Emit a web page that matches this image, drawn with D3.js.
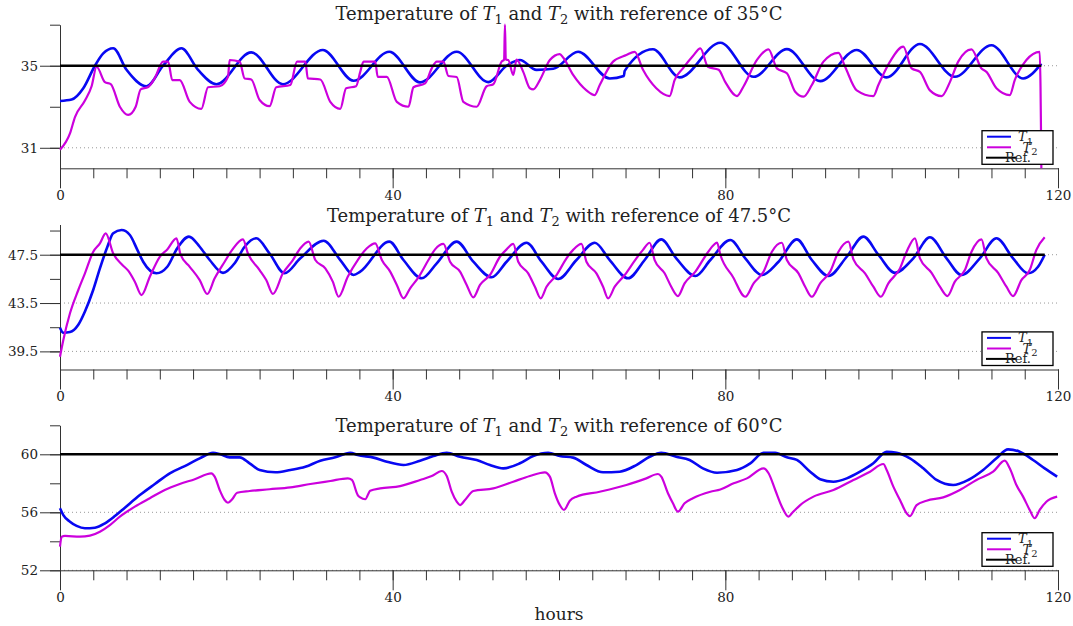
<!DOCTYPE html>
<html>
<head>
<meta charset="utf-8">
<script src="https://cdn.jsdelivr.net/npm/d3@7"></script>
<style>
  body { margin: 0; background: #fff; }
  text { font-family: "DejaVu Serif", serif; fill: #222; }
  .axis path, .axis line { stroke: #333; }
  .axis text { font-family: "DejaVu Serif", serif; font-size: 13.5px; fill: #222; }
</style>
</head>
<body>
<svg id="chart" width="1073" height="626"></svg>
<script>
// reference temperatures of the three runs
var refTemps = [35, 47.5, 60];
var refEndHours = [118, 118.4, 120];

// x ticks (hours)
var xTickHours = [0, 4, 8, 12, 16, 20, 24, 28, 32, 36, 40, 44, 48, 52, 56, 60, 64, 68, 72, 76, 80, 84, 88, 92, 96, 100, 104, 108, 112, 116, 120];
var xLabelHours = [0, 40, 80, 120];

// y ticks per panel
var yTicks35 = [31, 33, 35, 37];
var yLabels35 = [31, 35];
var yTicks47 = [39.5, 41.5, 43.5, 45.5, 47.5, 49.5];
var yLabels47 = [39.5, 43.5, 47.5];
var yTicks60 = [52, 54, 56, 58, 60, 62];
var yLabels60 = [52, 56, 60];

var legendLabels = ["1", "2", "Ref."];

// [hour, temperature]
var t1Ref35 = [[0,33.28],[1.4,33.35],[2.8,33.9],[4.2,35.0],[5.2,35.6],[6.4,35.85],[8,34.8],[10.4,34.0],[12.4,35.0],[14.6,35.85],[16.6,34.8],[18.8,34.1],[23,35.65],[26.8,34.1],[31.6,35.77],[35.3,34.27],[39.6,35.68],[43.3,34.19],[47.7,35.68],[51.5,34.2],[53.7,35.0],[55.3,35.28],[57.3,34.8],[59.3,34.85],[62.3,35.68],[66.1,34.38],[67.8,34.5],[67.9,34.75],[71.3,35.8],[74.5,34.43],[79.4,36.12],[83.4,34.46],[87.4,35.81],[91.4,34.25],[95.8,35.77],[99.4,34.43],[103.4,36.06],[107.6,34.46],[112,36.0],[115.8,34.38],[118,35.1]];
var t2Ref35 = [[0,30.9],[1.2,31.7],[1.8,32.5],[3,33.3],[3.8,34.0],[4.4,34.95],[5.4,34.2],[6.1,34.1],[7.2,33.0],[8.2,32.6],[9.1,33.0],[9.7,33.85],[10.6,33.96],[11.4,34.4],[12.4,35.2],[13.0,35.2],[13.5,34.3],[14.4,34.3],[15.6,33.24],[17.0,32.9],[17.8,33.95],[19.2,34.0],[20.2,34.46],[20.4,35.28],[21.6,35.2],[22.2,34.38],[23.0,34.33],[24.0,33.33],[25.2,33.03],[26.0,33.95],[27.7,34.06],[28.5,35.2],[29.5,35.2],[29.8,34.38],[31.3,34.33],[32.5,33.24],[33.7,32.9],[34.4,33.9],[35.6,34.0],[36.1,34.7],[36.5,35.2],[37.9,35.2],[38.2,34.46],[39.3,34.46],[40.5,33.24],[41.9,33.0],[42.5,33.95],[43.9,34.14],[44.7,34.87],[45.3,35.2],[46.1,35.2],[46.7,34.5],[47.7,34.45],[48.5,33.24],[50.1,33.0],[51.3,34.0],[52.1,34.1],[53.1,35.2],[53.4,35.3],[53.5,37.0],[53.6,35.3],[53.9,35.28],[54.5,34.55],[54.9,35.3],[55.7,34.7],[56.5,33.9],[56.9,33.85],[57.7,34.3],[58.9,35.28],[60.1,35.57],[60.5,35.4],[61.7,34.55],[63.3,33.8],[64.3,33.57],[64.9,34.06],[66.5,35.2],[68.1,35.52],[69.1,35.68],[70.1,34.8],[71.7,33.9],[73.3,33.52],[73.9,34.3],[74.9,34.87],[76.1,35.47],[77.0,35.85],[77.9,34.95],[79.2,34.8],[80.0,34.2],[81.4,33.52],[82.2,34.0],[83.8,35.28],[85.2,35.8],[86.2,34.87],[87.4,34.63],[88.4,33.73],[89.4,33.49],[90.4,34.06],[91.8,35.2],[93.6,35.63],[94.4,34.95],[95.8,33.8],[97.8,33.52],[98.4,34.06],[99.8,35.2],[101.4,35.93],[102.4,34.87],[103.4,34.7],[104.6,33.8],[106.0,33.52],[107.0,34.2],[108.0,35.2],[109.6,35.8],[110.8,34.87],[111.4,34.7],[112.6,33.9],[114.2,33.57],[114.8,34.3],[116.2,35.28],[117.8,35.68],[118.0,30.0]];

var t1Ref47 = [[0,41.46],[0.4,41.04],[1.2,41.1],[2.2,41.7],[3,42.8],[4,44.6],[4.8,46.37],[5.7,48.16],[6.4,49.27],[7.4,49.54],[8.4,49.13],[9.3,47.9],[10,46.92],[11.6,45.96],[12.9,46.5],[14.1,48.03],[15.5,49.0],[16.8,48.16],[18,47.06],[19.6,46.0],[21,46.79],[22.2,48.16],[23.6,48.86],[25.2,47.6],[27,45.96],[28.9,47.2],[31.7,48.66],[33.7,47.06],[35.3,45.82],[36.1,46.1],[39.6,48.58],[41.3,47.06],[43.5,45.55],[45.3,46.79],[47.7,48.58],[49.7,46.92],[51.9,45.63],[53.7,46.92],[56.1,48.49],[57.9,46.92],[59.9,45.49],[62.1,47.06],[64.3,48.49],[66.1,47.06],[68.3,45.55],[70.3,47.06],[72.3,48.77],[74.1,47.2],[76.4,45.74],[78.2,47.06],[80.6,48.72],[82.4,47.2],[84.4,45.82],[86.4,46.92],[88.6,48.77],[90.4,47.06],[92.4,45.74],[94.6,47.33],[96.6,49.0],[98.4,47.5],[100.4,46.0],[102.6,47.2],[104.6,48.94],[106.6,47.2],[108.4,45.82],[110.6,47.2],[112.6,48.86],[114.6,47.2],[116.4,45.96],[117.6,46.5],[118.4,47.5]];
var t2Ref47 = [[0,39.06],[0.4,40.44],[1.2,42.65],[2.2,44.58],[3,45.96],[4,47.75],[4.8,48.44],[5.5,49.27],[6.4,47.6],[7.5,46.65],[8.2,46.18],[9,45.27],[9.8,44.16],[10.8,45.68],[12,47.33],[12.9,47.94],[14,48.86],[14.5,47.5],[15.6,46.5],[16.8,45.4],[17.7,44.25],[18.6,45.55],[19.8,46.92],[20.7,47.9],[22,48.77],[22.6,47.6],[24,46.23],[24.8,45.4],[25.6,44.25],[26.8,45.96],[28,47.06],[28.9,48.03],[29.9,48.58],[30.7,47.06],[31.9,46.37],[32.8,45.27],[33.5,44.02],[34.6,45.68],[35.8,47.06],[36.9,48.03],[37.9,48.44],[38.7,47.06],[39.7,46.1],[40.5,45.0],[41.3,43.89],[42.1,44.72],[43.1,45.63],[44.3,47.06],[45.1,47.94],[46.1,48.39],[46.9,46.92],[48.1,46.1],[48.9,45.0],[49.7,43.97],[50.5,45.0],[51.7,45.82],[52.9,47.33],[53.7,47.94],[54.5,48.39],[55.1,46.92],[56.3,45.96],[57.1,44.85],[57.8,43.89],[58.5,44.85],[59.7,45.82],[60.9,47.2],[61.7,47.9],[62.7,48.39],[63.3,46.92],[64.5,45.96],[65.3,44.85],[65.9,43.89],[66.7,44.85],[67.9,45.82],[69.3,47.2],[70.1,47.9],[70.9,48.49],[71.5,47.06],[72.7,45.96],[73.5,44.85],[74.3,44.08],[75.1,45.13],[76.4,46.1],[77.8,47.6],[78.6,48.3],[79.0,48.5],[79.4,47.5],[80.9,45.68],[82.4,44.02],[83.4,45.13],[84.6,46.1],[85.6,47.75],[86.8,48.49],[87.4,47.06],[88.8,45.96],[89.6,44.85],[90.4,44.02],[91.4,45.13],[92.6,46.1],[93.6,47.75],[94.8,48.58],[95.4,47.12],[96.8,45.96],[97.8,44.85],[98.7,44.02],[99.6,45.13],[101,46.37],[101.8,47.75],[102.8,48.86],[103.4,47.2],[104.8,46.0],[105.8,44.85],[106.7,44.08],[107.6,45.27],[108.8,46.23],[109.6,47.75],[110.8,48.77],[111.4,47.2],[112.8,46.0],[113.8,44.85],[114.6,44.08],[115.6,45.4],[116.6,46.23],[117.4,47.9],[118.4,48.94]];

var t1Ref60 = [[0,56.28],[0.4,55.81],[1.2,55.35],[2,55.06],[3,54.9],[4.2,54.94],[5.4,55.24],[6.6,55.74],[7.8,56.32],[9.6,57.19],[11.4,57.95],[13.2,58.69],[15,59.19],[16.8,59.72],[18.4,60.11],[19.2,60.02],[20.4,59.79],[21.6,59.79],[22.8,59.38],[24,58.92],[25.9,58.76],[27.7,58.92],[29.5,59.14],[31.3,59.56],[33.1,59.79],[34.9,60.11],[35.8,59.95],[37.7,59.77],[39.3,59.49],[41.3,59.26],[43.3,59.56],[44.9,59.88],[46.5,60.11],[48.1,59.83],[50.1,59.61],[51.7,59.26],[53.3,59.03],[55.3,59.38],[56.9,59.88],[58.7,60.11],[60.1,59.88],[61.7,59.77],[63.3,59.26],[65.3,58.76],[67.3,58.8],[69.3,59.26],[70.9,59.83],[72.3,60.11],[74.1,59.83],[75.7,59.61],[77.3,59.03],[79,58.73],[81.4,58.92],[83,59.38],[84.6,60.11],[86,60.11],[87.4,59.79],[88.6,59.61],[90.2,58.8],[91.4,58.28],[93,58.11],[94.6,58.34],[96.2,58.8],[97.8,59.38],[99.4,60.18],[100.6,60.11],[102.2,59.72],[103.8,59.03],[105.4,58.23],[107.4,57.88],[109.2,58.23],[111,58.92],[112.6,59.72],[114,60.34],[115.4,60.18],[117,59.61],[118.4,59.03],[119.9,58.46]];
var t2Ref60 = [[0,53.63],[0.2,54.32],[0.6,54.37],[2.4,54.32],[3.6,54.39],[4.8,54.66],[6,55.12],[7.2,55.7],[9,56.39],[10.8,56.97],[12.6,57.54],[14.4,57.95],[16.2,58.28],[18.2,58.69],[18.6,58.46],[19.2,57.54],[19.8,56.85],[20.2,56.66],[20.7,56.9],[21.3,57.35],[22.8,57.47],[25.2,57.59],[27.7,57.72],[30.1,57.95],[32.5,58.16],[34.6,58.34],[35.1,58.23],[35.8,57.19],[36.1,57.03],[36.7,56.9],[37.3,57.49],[38.5,57.65],[40.9,57.81],[43.3,58.23],[44.7,58.5],[45.9,58.85],[46.5,58.5],[47.1,57.42],[47.7,56.73],[48.1,56.5],[48.7,56.85],[49.7,57.47],[52.1,57.65],[54.5,58.11],[56.5,58.5],[58.3,58.76],[58.9,58.46],[59.5,57.31],[60.1,56.5],[60.6,56.16],[61.3,56.8],[62.1,57.08],[64.9,57.42],[68.1,57.88],[70.5,58.34],[71.9,58.64],[72.3,58.46],[73.1,57.31],[73.7,56.62],[74.3,56.04],[75.1,56.62],[76.1,56.97],[78.2,57.42],[79.4,57.57],[81,58.0],[82.6,58.34],[84.6,59.03],[85.2,58.69],[86,57.54],[86.8,56.39],[87.6,55.7],[88,55.93],[89,56.5],[90.6,57.08],[93,57.54],[95.4,58.23],[97.4,58.8],[99,59.33],[99.4,58.92],[100.2,57.77],[101,56.85],[101.8,55.93],[102.2,55.74],[103,56.5],[104.2,56.8],[106.2,57.03],[108.2,57.54],[110.2,58.23],[112.2,58.8],[113.6,59.56],[114.2,59.03],[115,57.88],[115.8,57.08],[116.6,56.16],[117.2,55.59],[117.8,56.16],[118.6,56.73],[119.9,57.08]];

var colorT1 = "#0808f2";
var colorT2 = "#cc00dd";

// panel layout (pixels)
var panels = [
  { ref: refTemps[0], refEnd: refEndHours[0], domain: [30, 37], top: 24.7, bottom: 168.3, titleY: 20, ticks: yTicks35, labels: yLabels35, t1: t1Ref35, t2: t2Ref35 },
  { ref: refTemps[1], refEnd: refEndHours[1], domain: [38, 50], top: 224.5, bottom: 369.5, titleY: 222, ticks: yTicks47, labels: yLabels47, t1: t1Ref47, t2: t2Ref47 },
  { ref: refTemps[2], refEnd: refEndHours[2], domain: [52, 62], top: 425.3, bottom: 570.3, titleY: 432, ticks: yTicks60, labels: yLabels60, t1: t1Ref60, t2: t2Ref60 }
];

var svg = d3.select("#chart");

var x = d3.scaleLinear().domain([0, 120]).range([60, 1058]);

panels.forEach(function(p) {
  var y = d3.scaleLinear().domain(p.domain).range([p.bottom, p.top]);

  // dotted grid at the labelled values
  svg.append("g").selectAll("line")
    .data(p.labels)
    .enter().append("line")
    .attr("x1", x(0)).attr("x2", x(120))
    .attr("y1", function(d) { return y(d); })
    .attr("y2", function(d) { return y(d); })
    .attr("stroke", "#999")
    .attr("stroke-width", 1)
    .attr("stroke-dasharray", "1,3");

  // y axis: minor then labelled ticks
  svg.append("g").attr("class", "axis")
    .attr("transform", "translate(" + x(0) + ",0)")
    .call(d3.axisLeft(y).tickValues(p.ticks).tickSize(10).tickSizeOuter(0).tickFormat(""));
  var yMajor = svg.append("g").attr("class", "axis")
    .attr("transform", "translate(" + x(0) + ",0)")
    .call(d3.axisLeft(y).tickValues(p.labels).tickSize(20).tickPadding(2).tickFormat(d3.format("")));
  yMajor.select(".domain").remove();

  // x axis
  svg.append("g").attr("class", "axis")
    .attr("transform", "translate(0," + p.bottom + ")")
    .call(d3.axisBottom(x).tickValues(xTickHours).tickSize(10).tickSizeOuter(0).tickFormat(""));
  var xMajor = svg.append("g").attr("class", "axis")
    .attr("transform", "translate(0," + p.bottom + ")")
    .call(d3.axisBottom(x).tickValues(xLabelHours).tickSize(20).tickPadding(2));
  xMajor.select(".domain").remove();

  var line = d3.line()
    .x(function(d) { return x(d[0]); })
    .y(function(d) { return y(d[1]); })
    .curve(d3.curveMonotoneX);

  svg.append("path").datum(p.t1)
    .attr("fill", "none").attr("stroke", colorT1).attr("stroke-width", 2.6)
    .attr("d", line);
  svg.append("path").datum(p.t2)
    .attr("fill", "none").attr("stroke", colorT2).attr("stroke-width", 2.2)
    .attr("d", line);

  // reference line
  svg.append("line")
    .attr("x1", x(0)).attr("x2", x(p.refEnd))
    .attr("y1", y(p.ref)).attr("y2", y(p.ref))
    .attr("stroke", "#000").attr("stroke-width", 2.6);

  // title
  var t = svg.append("text")
    .attr("x", 559).attr("y", p.titleY)
    .attr("text-anchor", "middle")
    .style("font-size", "18px");
  t.append("tspan").text("Temperature of ");
  t.append("tspan").style("font-style", "italic").text("T");
  t.append("tspan").style("font-size", "13px").attr("dy", 4).text("1");
  t.append("tspan").attr("dy", -4).text(" and ");
  t.append("tspan").style("font-style", "italic").text("T");
  t.append("tspan").style("font-size", "13px").attr("dy", 4).text("2");
  t.append("tspan").attr("dy", -4).text(" with reference of " + p.ref + "\u00b0C");

  // legend
  var lg = svg.append("g").attr("transform", "translate(982," + (p.bottom - 37.6) + ")");
  lg.append("rect").attr("width", 71).attr("height", 33.6)
    .attr("fill", "#fff").attr("stroke", "#000").attr("stroke-width", 1.3);
  lg.append("line").attr("x1", 5).attr("x2", 29).attr("y1", 6).attr("y2", 6)
    .attr("stroke", colorT1).attr("stroke-width", 2);
  lg.append("line").attr("x1", 5).attr("x2", 29).attr("y1", 16.6).attr("y2", 16.6)
    .attr("stroke", colorT2).attr("stroke-width", 2);
  lg.append("line").attr("x1", 4).attr("x2", 34).attr("y1", 27).attr("y2", 27)
    .attr("stroke", "#000").attr("stroke-width", 2);
  var l1 = lg.append("text").attr("x", 36).attr("y", 10).style("font-size", "13px");
  l1.append("tspan").style("font-style", "italic").text("T");
  l1.append("tspan").style("font-size", "10px").attr("dy", 4).text(legendLabels[0]);
  var l2 = lg.append("text").attr("x", 40.5).attr("y", 21).style("font-size", "13px");
  l2.append("tspan").style("font-style", "italic").text("T");
  l2.append("tspan").style("font-size", "10px").attr("dy", 3).text(legendLabels[1]);
  lg.append("text").attr("x", 23).attr("y", 31).style("font-size", "13px").text(legendLabels[2]);
});

// x axis title
svg.append("text")
  .attr("x", 559).attr("y", 620)
  .attr("text-anchor", "middle")
  .style("font-size", "17px")
  .text("hours");
</script>
</body>
</html>
